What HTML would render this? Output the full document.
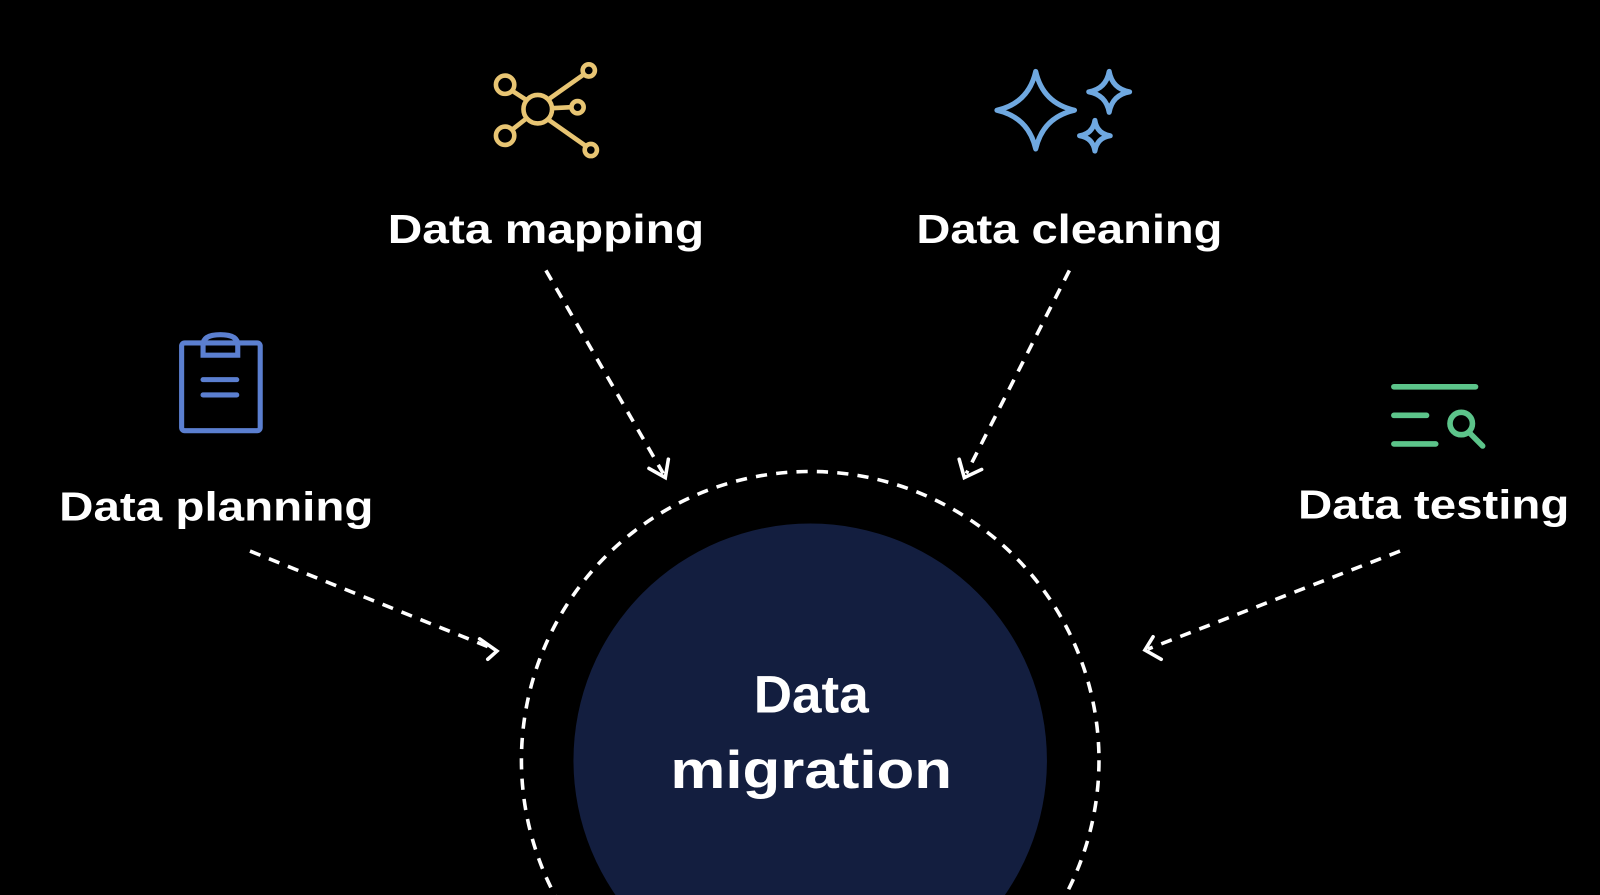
<!DOCTYPE html>
<html><head><meta charset="utf-8"><style>
html,body{margin:0;padding:0;background:#000;width:1600px;height:895px;overflow:hidden}
svg{display:block;overflow:hidden}
text{font-family:"Liberation Sans",sans-serif;font-weight:bold;fill:#fff}
</style></head><body>
<svg width="1600" height="895" viewBox="0 0 1568 877" preserveAspectRatio="none">
<defs><clipPath id="c"><rect width="1568" height="877"/></clipPath></defs>
<rect width="1568" height="877" fill="#000"/>
<g clip-path="url(#c)">
<circle cx="794" cy="745" r="232" fill="#131e3f"/>
<circle cx="794" cy="745" r="283" fill="none" stroke="#fff" stroke-width="3.5" stroke-dasharray="11 9"/>
</g>
<text x="795" y="698" font-size="52" text-anchor="middle">Data</text>
<text x="795" y="772" font-size="52" text-anchor="middle" textLength="276" lengthAdjust="spacingAndGlyphs">migration</text>
<g font-size="40">
<text x="535" y="238" text-anchor="middle" textLength="310" lengthAdjust="spacingAndGlyphs">Data mapping</text>
<text x="1048" y="238" text-anchor="middle" textLength="300" lengthAdjust="spacingAndGlyphs">Data cleaning</text>
<text x="212" y="510" text-anchor="middle" textLength="308" lengthAdjust="spacingAndGlyphs">Data planning</text>
<text x="1405" y="508" text-anchor="middle" textLength="266" lengthAdjust="spacingAndGlyphs">Data testing</text>
</g>
<g stroke="#fff" stroke-width="3.5" fill="none" stroke-dasharray="11 9">
<line x1="535" y1="265" x2="650" y2="464"/>
<line x1="1048" y1="265" x2="947" y2="464"/>
<line x1="245" y1="540" x2="484" y2="636"/>
<line x1="1372" y1="540" x2="1125" y2="636"/>
</g>
<g stroke="#fff" stroke-width="3.5" fill="none" stroke-linecap="round">
<polyline points="636,459 652,468 655,450"/>
<polyline points="940,450 945,468 962,460"/>
<polyline points="470,626 487,638 478,646"/>
<polyline points="1130,624 1122,637 1138,646"/>
</g>
<g stroke="#e8c573" stroke-width="4.5" fill="none">
<circle cx="527" cy="107" r="14"/>
<circle cx="495" cy="83" r="9"/>
<circle cx="495" cy="133" r="9"/>
<circle cx="577" cy="69" r="6"/>
<circle cx="566" cy="105" r="6"/>
<circle cx="579" cy="147" r="6"/>
<line x1="516" y1="98" x2="502" y2="89"/>
<line x1="516" y1="116" x2="502" y2="127"/>
<line x1="538" y1="97" x2="572" y2="73"/>
<line x1="541" y1="106" x2="560" y2="105"/>
<line x1="537" y1="117" x2="574" y2="143"/>
</g>
<g stroke="#6fa8e0" stroke-width="5" fill="none" stroke-linejoin="round">
<path d="M1015 70 Q1022 101 1053 108 Q1022 115 1015 146 Q1008 115 977 108 Q1008 101 1015 70Z"/>
<path d="M1087 70 Q1090 87 1107 90 Q1090 93 1087 110 Q1084 93 1067 90 Q1084 87 1087 70Z"/>
<path d="M1073 118 Q1075 131 1088 133 Q1075 135 1073 148 Q1071 135 1058 133 Q1071 131 1073 118Z"/>
</g>
<g stroke="#5b7fd0" stroke-width="5" fill="none" stroke-linecap="round">
<rect x="178" y="336" width="77" height="86" rx="3"/>
<path d="M199 348 V338 Q199 328 216 328 Q233 328 233 338 V348 Z"/>
<line x1="199" y1="372" x2="232" y2="372"/>
<line x1="199" y1="387" x2="232" y2="387"/>
</g>
<g stroke="#5cc48a" stroke-width="5.5" fill="none" stroke-linecap="round">
<line x1="1366" y1="379" x2="1446" y2="379"/>
<line x1="1366" y1="407" x2="1398" y2="407"/>
<line x1="1366" y1="435" x2="1407" y2="435"/>
<circle cx="1432" cy="415" r="11"/>
<line x1="1440" y1="424" x2="1453" y2="437"/>
</g>
</svg>
</body></html>
